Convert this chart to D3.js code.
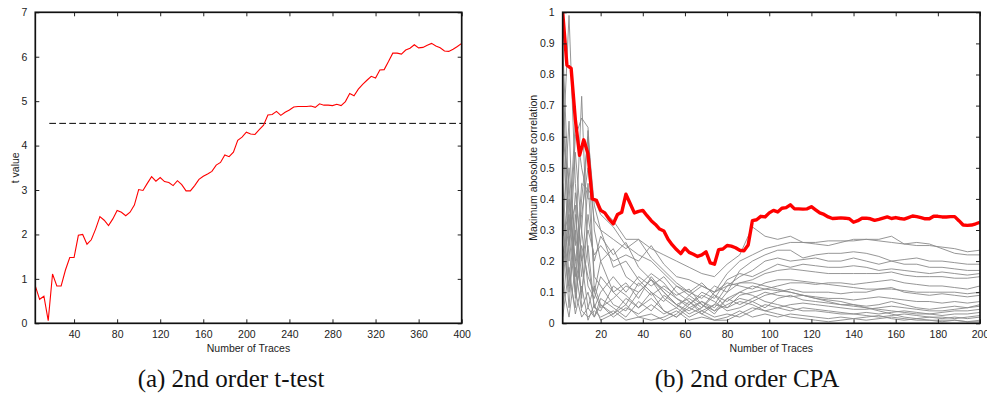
<!DOCTYPE html>
<html>
<head>
<meta charset="utf-8">
<script src="https://cdn.jsdelivr.net/npm/d3@7"></script>
<style>
  body { margin: 0; background: #fff; }
  svg { display: block; }
  .tick text { font-family: "Liberation Sans", Arial, sans-serif; font-size: 10.5px; fill: #222; }
  .lbl { font-family: "Liberation Sans", Arial, sans-serif; font-size: 10.5px; fill: #222; }
  .cap { font-family: "Liberation Serif", "Times New Roman", serif; font-size: 25px; fill: #111; }
</style>
</head>
<body>
<svg id="chart"></svg>
<script>
const W = 987, H = 401;

// (a) 2nd order t-test
const tTraces = [4,8,12,16,20,24,28,32,36,40,44,48,52,56,60,64,68,72,76,80,
  84,88,92,96,100,104,108,112,116,120,124,128,132,136,140,144,148,152,156,160,
  164,168,172,176,180,184,188,192,196,200,204,208,212,216,220,224,228,232,236,240,
  244,248,252,256,260,264,268,272,276,280,284,288,292,296,300,304,308,312,316,320,
  324,328,332,336,340,344,348,352,356,360,364,368,372,376,380,384,388,392,396,400];
const tValues = [0.84,0.54,0.61,0.06,1.11,0.84,0.84,1.2,1.48,1.48,1.98,2.0,1.78,1.88,2.12,2.4,2.32,2.2,2.35,2.54,
  2.5,2.42,2.5,2.66,3.01,2.99,3.15,3.3,3.2,3.28,3.19,3.17,3.1,3.21,3.12,2.98,2.98,3.1,3.24,3.31,
  3.36,3.42,3.56,3.62,3.79,3.75,3.85,4.12,4.19,4.3,4.26,4.25,4.36,4.46,4.69,4.7,4.77,4.68,4.75,4.8,
  4.87,4.88,4.88,4.88,4.89,4.86,4.94,4.91,4.91,4.9,4.93,4.9,4.99,5.17,5.12,5.27,5.38,5.47,5.56,5.52,
  5.7,5.71,5.89,6.08,6.08,6.06,6.15,6.19,6.27,6.2,6.21,6.26,6.3,6.24,6.2,6.13,6.12,6.17,6.23,6.3];
const threshold = 4.5, thresholdFrom = 17;
const tXTicks = [40,80,120,160,200,240,280,320,360,400];
const tYTicks = [0,1,2,3,4,5,6,7];

// (b) 2nd order CPA
const cpaTraces = [2,4,6,8,10,12,14,16,18,20,22,24,26,28,30,32,34,36,38,40,
  42,44,46,48,50,52,54,56,58,60,62,64,66,68,70,72,74,76,78,80,
  82,84,86,88,90,92,94,96,98,100,102,104,106,108,110,112,114,116,118,120,
  122,124,126,128,130,132,134,136,138,140,142,144,146,148,150,152,154,156,158,160,
  162,164,166,168,170,172,174,176,178,180,182,184,186,188,190,192,194,196,198,200];
const cpaCorrect = [1.0,0.83,0.82,0.655,0.54,0.59,0.545,0.4,0.395,0.363,0.355,0.335,0.32,0.35,0.357,0.415,0.385,0.355,0.36,0.363,
  0.346,0.33,0.318,0.303,0.297,0.27,0.252,0.237,0.224,0.242,0.228,0.222,0.215,0.22,0.23,0.194,0.19,0.237,0.239,0.25,
  0.248,0.243,0.235,0.233,0.252,0.33,0.333,0.344,0.342,0.355,0.363,0.358,0.37,0.372,0.381,0.368,0.368,0.367,0.368,0.375,
  0.365,0.355,0.35,0.342,0.337,0.338,0.339,0.338,0.336,0.325,0.33,0.338,0.338,0.336,0.331,0.334,0.338,0.342,0.337,0.34,
  0.337,0.335,0.34,0.345,0.343,0.34,0.336,0.336,0.344,0.344,0.342,0.342,0.343,0.343,0.33,0.316,0.315,0.316,0.32,0.325];

const grayTraces = [2,5,8,11,14,17,20,26,32,38,44,50,56,62,68,74,80,86,92,98,
  104,110,116,122,128,134,140,146,152,158,164,170,176,182,188,194,200];
const cpaWrong = [
  [0.28,0.35,0.15,0.45,0.43,0.40,0.37,0.33,0.27,0.27,0.24,0.22,0.20,0.18,0.16,0.15,0.19,0.22,0.31,0.28,0.27,0.28,0.26,0.26,0.265,0.265,0.265,0.27,0.27,0.28,0.255,0.25,0.25,0.245,0.24,0.23,0.235],
  [0.62,0.2,0.55,0.3,0.62,0.1,0.05,0.08,0.12,0.1,0.14,0.08,0.05,0.09,0.12,0.1,0.16,0.2,0.22,0.24,0.25,0.26,0.26,0.255,0.25,0.26,0.27,0.27,0.265,0.26,0.255,0.26,0.255,0.24,0.225,0.22,0.22],
  [0.4,0.1,0.3,0.08,0.35,0.2,0.28,0.22,0.26,0.18,0.14,0.1,0.06,0.04,0.07,0.05,0.1,0.17,0.2,0.22,0.235,0.235,0.21,0.22,0.225,0.225,0.23,0.225,0.215,0.2,0.205,0.21,0.2,0.2,0.195,0.19,0.19],
  [0.15,0.5,0.25,0.73,0.2,0.05,0.1,0.15,0.1,0.15,0.12,0.15,0.1,0.07,0.04,0.06,0.12,0.15,0.17,0.2,0.21,0.2,0.205,0.21,0.2,0.2,0.21,0.2,0.19,0.2,0.19,0.19,0.18,0.18,0.175,0.17,0.17],
  [0.8,0.25,0.6,0.66,0.63,0.3,0.2,0.24,0.15,0.12,0.16,0.13,0.08,0.06,0.1,0.08,0.14,0.16,0.15,0.17,0.19,0.18,0.19,0.185,0.18,0.18,0.185,0.18,0.17,0.175,0.17,0.165,0.16,0.165,0.16,0.155,0.16],
  [0.55,0.99,0.45,0.2,0.05,0.02,0.06,0.03,0.08,0.05,0.1,0.07,0.12,0.1,0.08,0.12,0.1,0.13,0.14,0.16,0.17,0.175,0.17,0.165,0.16,0.16,0.16,0.16,0.16,0.165,0.155,0.15,0.15,0.15,0.145,0.145,0.15],
  [0.3,0.65,0.1,0.4,0.6,0.38,0.3,0.18,0.2,0.14,0.1,0.04,0.02,0.05,0.03,0.06,0.05,0.09,0.1,0.11,0.12,0.13,0.13,0.125,0.13,0.13,0.125,0.13,0.135,0.14,0.13,0.125,0.12,0.12,0.115,0.11,0.12],
  [0.35,0.05,0.35,0.15,0.45,0.15,0.12,0.06,0.04,0.1,0.14,0.11,0.08,0.05,0.07,0.04,0.06,0.08,0.07,0.09,0.1,0.11,0.1,0.1,0.1,0.095,0.1,0.1,0.11,0.115,0.1,0.095,0.09,0.095,0.09,0.085,0.09],
  [0.45,0.15,0.05,0.3,0.12,0.08,0.15,0.1,0.06,0.13,0.09,0.12,0.09,0.11,0.06,0.03,0.08,0.06,0.08,0.1,0.09,0.085,0.09,0.085,0.08,0.08,0.075,0.08,0.085,0.08,0.075,0.07,0.07,0.065,0.07,0.065,0.07],
  [0.1,0.4,0.2,0.1,0.25,0.05,0.04,0.12,0.09,0.05,0.08,0.04,0.02,0.06,0.09,0.07,0.04,0.05,0.07,0.05,0.08,0.09,0.075,0.07,0.065,0.06,0.06,0.055,0.06,0.07,0.06,0.05,0.045,0.05,0.055,0.05,0.055],
  [0.2,0.3,0.38,0.05,0.1,0.02,0.08,0.05,0.02,0.07,0.04,0.09,0.06,0.03,0.05,0.09,0.07,0.1,0.12,0.11,0.105,0.1,0.09,0.08,0.07,0.06,0.055,0.05,0.045,0.04,0.035,0.03,0.03,0.035,0.04,0.04,0.045],
  [0.05,0.28,0.1,0.02,0.05,0.12,0.06,0.02,0.05,0.03,0.06,0.03,0.05,0.02,0.04,0.02,0.03,0.02,0.04,0.06,0.05,0.04,0.05,0.045,0.04,0.035,0.03,0.025,0.02,0.025,0.03,0.025,0.02,0.02,0.015,0.02,0.025],
  [0.12,0.02,0.18,0.04,0.02,0.04,0.02,0.04,0.01,0.02,0.01,0.02,0.04,0.01,0.02,0.01,0.02,0.04,0.02,0.03,0.02,0.03,0.025,0.02,0.015,0.02,0.015,0.01,0.015,0.02,0.015,0.01,0.01,0.01,0.01,0.005,0.01],
  [0.6,0.45,0.08,0.25,0.15,0.1,0.2,0.1,0.13,0.08,0.15,0.1,0.06,0.08,0.05,0.1,0.12,0.13,0.13,0.12,0.11,0.1,0.09,0.08,0.075,0.07,0.06,0.05,0.04,0.03,0.02,0.015,0.01,0.005,0.01,0.005,0.005],
  [0.7,0.3,0.65,0.5,0.4,0.4,0.35,0.31,0.25,0.22,0.2,0.16,0.12,0.09,0.06,0.04,0.08,0.1,0.09,0.07,0.06,0.05,0.04,0.04,0.035,0.03,0.03,0.035,0.03,0.035,0.04,0.035,0.03,0.025,0.03,0.03,0.035],
  [0.25,0.12,0.42,0.2,0.3,0.22,0.25,0.2,0.22,0.2,0.25,0.19,0.15,0.14,0.12,0.1,0.13,0.12,0.11,0.13,0.14,0.14,0.135,0.13,0.125,0.12,0.115,0.11,0.11,0.11,0.105,0.1,0.1,0.1,0.1,0.095,0.1],
  [0.02,0.18,0.03,0.12,0.01,0.06,0.01,0.03,0.06,0.02,0.03,0.01,0.03,0.07,0.03,0.01,0.01,0.03,0.05,0.04,0.03,0.02,0.015,0.01,0.005,0.01,0.015,0.02,0.025,0.015,0.01,0.015,0.02,0.015,0.02,0.015,0.02],
  [0.9,0.38,0.2,0.35,0.5,0.33,0.3,0.27,0.24,0.27,0.21,0.17,0.13,0.1,0.13,0.09,0.05,0.07,0.06,0.04,0.05,0.06,0.065,0.06,0.055,0.05,0.045,0.045,0.05,0.055,0.05,0.045,0.04,0.04,0.045,0.05,0.06]
];
const cpaXTicks = [20,40,60,80,100,120,140,160,180,200];
const cpaYTicks = [0,0.1,0.2,0.3,0.4,0.5,0.6,0.7,0.8,0.9,1];

const svg = d3.select("#chart")
    .attr("width", W)
    .attr("height", H);

svg.append("rect").attr("width", W).attr("height", H).attr("fill", "#fff");

// draws a matlab style box with inward ticks on all four sides
function drawFrame(g, x, y, xTicks, yTicks, yFmt) {
  const [x0, x1] = x.range(), [y0, y1] = y.range();
  const tk = 4;

  g.append("g")
    .attr("transform", "translate(0," + y0 + ")")
    .call(d3.axisBottom(x).tickValues(xTicks).tickSizeInner(-tk).tickSizeOuter(0).tickPadding(7).tickFormat(d3.format("d")));
  g.append("g")
    .attr("transform", "translate(0," + y1 + ")")
    .call(d3.axisTop(x).tickValues(xTicks).tickSizeInner(-tk).tickSizeOuter(0).tickFormat(""));
  g.append("g")
    .attr("transform", "translate(" + x0 + ",0)")
    .call(d3.axisLeft(y).tickValues(yTicks).tickSizeInner(-tk).tickSizeOuter(0).tickPadding(8).tickFormat(yFmt));
  g.append("g")
    .attr("transform", "translate(" + x1 + ",0)")
    .call(d3.axisRight(y).tickValues(yTicks).tickSizeInner(-tk).tickSizeOuter(0).tickFormat(""));

  g.selectAll(".domain").remove();
  g.selectAll(".tick line").attr("stroke", "#222").attr("stroke-width", 1);

  g.append("rect")
    .attr("x", x0).attr("y", y1)
    .attr("width", x1 - x0).attr("height", y0 - y1)
    .attr("fill", "none")
    .attr("stroke", "#111")
    .attr("stroke-width", 1.7);
}

// ---------- (a) ----------
const xa = d3.scaleLinear().domain([4, 400]).range([35.3, 461.7]);
const ya = d3.scaleLinear().domain([0, 7]).range([323.3, 12.3]);
const ga = svg.append("g");

ga.append("clipPath").attr("id", "clipA")
  .append("rect").attr("x", 35.3).attr("y", 12.3).attr("width", 461.7 - 35.3).attr("height", 311);

ga.append("line")
  .attr("x1", xa(thresholdFrom)).attr("x2", xa(400))
  .attr("y1", ya(threshold)).attr("y2", ya(threshold))
  .attr("stroke", "#000")
  .attr("stroke-width", 1)
  .attr("stroke-dasharray", "6.7,3.3");

ga.append("path")
  .datum(tTraces.map((d, i) => [d, tValues[i]]))
  .attr("clip-path", "url(#clipA)")
  .attr("fill", "none")
  .attr("stroke", "#ff0000")
  .attr("stroke-width", 1.1)
  .attr("d", d3.line().x(d => xa(d[0])).y(d => ya(d[1])));

drawFrame(ga, xa, ya, tXTicks, tYTicks, d3.format("d"));

ga.append("text").attr("class", "lbl")
  .attr("x", (35.3 + 461.7) / 2).attr("y", 352)
  .attr("text-anchor", "middle")
  .text("Number of Traces");
ga.append("text").attr("class", "lbl")
  .attr("transform", "translate(19," + (12.3 + 323.3) / 2 + ") rotate(-90)")
  .attr("text-anchor", "middle")
  .text("t value");

// ---------- (b) ----------
const xb = d3.scaleLinear().domain([2, 200]).range([562.7, 980]);
const yb = d3.scaleLinear().domain([0, 1]).range([323.3, 12.3]);
const gb = svg.append("g");

gb.append("clipPath").attr("id", "clipB")
  .append("rect").attr("x", 562.7).attr("y", 12.3).attr("width", 980 - 562.7).attr("height", 311);

const lineB = d3.line().x(d => xb(d[0])).y(d => yb(d[1]));

gb.append("g")
  .attr("clip-path", "url(#clipB)")
  .selectAll("path")
  .data(cpaWrong)
  .enter()
  .append("path")
  .attr("fill", "none")
  .attr("stroke", "#8a8a8a")
  .attr("stroke-width", 0.9)
  .attr("d", s => lineB(grayTraces.map((d, i) => [d, s[i]])));

gb.append("path")
  .datum(cpaTraces.map((d, i) => [d, cpaCorrect[i]]))
  .attr("clip-path", "url(#clipB)")
  .attr("fill", "none")
  .attr("stroke", "#ff0000")
  .attr("stroke-width", 3.4)
  .attr("stroke-linejoin", "round")
  .attr("d", lineB);

drawFrame(gb, xb, yb, cpaXTicks, cpaYTicks, d => d === 0 || d === 1 ? String(d) : d3.format(".1f")(d));

gb.append("text").attr("class", "lbl")
  .attr("x", (562.7 + 980) / 2).attr("y", 352)
  .attr("text-anchor", "middle")
  .text("Number of Traces");
gb.append("text").attr("class", "lbl")
  .attr("transform", "translate(537," + (12.3 + 323.3) / 2 + ") rotate(-90)")
  .attr("text-anchor", "middle")
  .text("Maximum abosolute correlation");

// captions
svg.append("text").attr("class", "cap")
  .attr("x", 231).attr("y", 387)
  .attr("text-anchor", "middle")
  .text("(a) 2nd order t-test");
svg.append("text").attr("class", "cap")
  .attr("x", 747).attr("y", 387)
  .attr("text-anchor", "middle")
  .text("(b) 2nd order CPA");
</script>
</body>
</html>
